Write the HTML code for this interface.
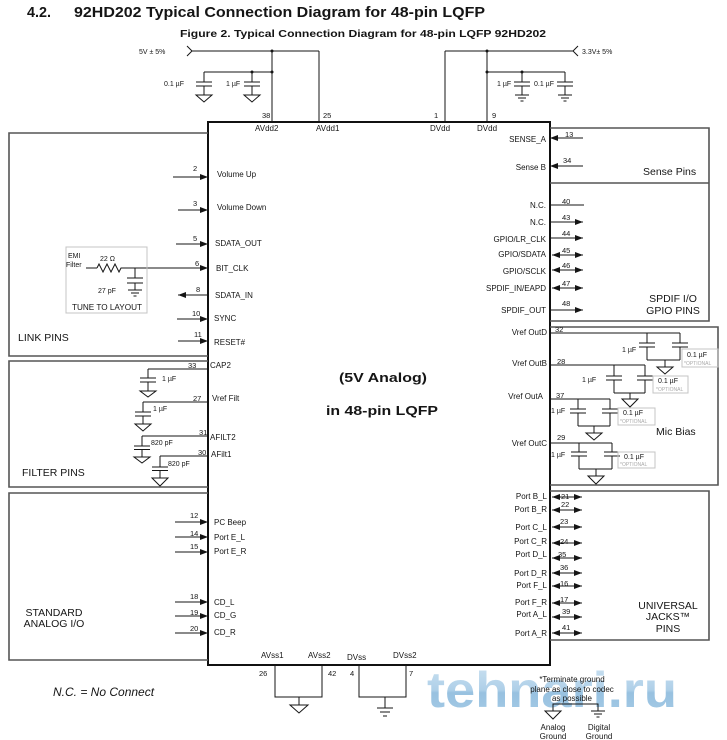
<!DOCTYPE html>
<html><head><meta charset="utf-8"><style>
html,body{margin:0;padding:0;background:#fff;}
svg{display:block;}
text{font-family:"Liberation Sans",Arial,sans-serif;fill:#151515;}
.p{font-size:8px;}
.n{font-size:7.5px;}
.s{font-size:7px;}
.o{font-size:5px;fill:#aaa;}
.big{font-size:10.5px;}
line,path,polyline{stroke:#151515;stroke-width:1;fill:none;}
.gnd{fill:#fff;stroke:#151515;stroke-width:1;}
.box{stroke:#555;stroke-width:1.6;fill:none;}
.ob{stroke:#c4c4c4;stroke-width:1;fill:none;}
</style></head><body>
<svg width="727" height="740" viewBox="0 0 727 740" xmlns="http://www.w3.org/2000/svg">
<defs>
<marker id="ah" viewBox="0 0 8 6" refX="8" refY="3" markerWidth="8" markerHeight="6" markerUnits="userSpaceOnUse" orient="auto-start-reverse"><path d="M0,0L8,3L0,6z" style="fill:#151515;stroke:none"/></marker>
<linearGradient id="wg" x1="0" y1="0" x2="0" y2="1">
<stop offset="0" stop-color="#c9e0f1"/><stop offset="0.5" stop-color="#a6cbe6"/><stop offset="0.55" stop-color="#8dbbdd"/><stop offset="1" stop-color="#9cc5e3"/>
</linearGradient>
</defs>
<rect width="727" height="740" fill="#fff"/>

<!-- titles -->
<text x="27" y="17" font-size="15" font-weight="bold" textLength="24" lengthAdjust="spacingAndGlyphs">4.2.</text>
<text x="74" y="17" font-size="15" font-weight="bold" textLength="411" lengthAdjust="spacingAndGlyphs">92HD202 Typical Connection Diagram for 48-pin LQFP</text>
<text x="180" y="37" font-size="10.5" font-weight="bold" textLength="366" lengthAdjust="spacingAndGlyphs">Figure 2.  Typical Connection Diagram for 48-pin LQFP 92HD202</text>

<!-- top supply left -->
<text class="s" x="139" y="54">5V ± 5%</text>
<path d="M187,46 L192,51 L187,56"/>
<line x1="192" y1="51" x2="319" y2="51"/>
<line x1="272" y1="51" x2="272" y2="122"/>
<line x1="319" y1="51" x2="319" y2="122"/>
<line x1="204" y1="72" x2="272" y2="72"/>
<circle cx="272" cy="51" r="1.5" fill="#151515"/>
<circle cx="272" cy="72" r="1.5" fill="#151515"/>
<circle cx="252" cy="72" r="1.5" fill="#151515"/>
<line x1="204" y1="72" x2="204" y2="82"/><line x1="196" y1="82" x2="212" y2="82"/><line x1="196" y1="86" x2="212" y2="86"/><line x1="204" y1="86" x2="204" y2="95"/>
<polygon class="gnd" points="196,95 212,95 204,102"/>
<line x1="252" y1="72" x2="252" y2="82"/><line x1="244" y1="82" x2="260" y2="82"/><line x1="244" y1="86" x2="260" y2="86"/><line x1="252" y1="86" x2="252" y2="95"/>
<polygon class="gnd" points="244,95 260,95 252,102"/>
<text class="s" x="164" y="86">0.1 µF</text>
<text class="s" x="226" y="86">1 µF</text>

<!-- top supply right -->
<text class="s" x="582" y="54">3.3V± 5%</text>
<path d="M578,46 L573,51 L578,56"/>
<line x1="445" y1="51" x2="573" y2="51"/>
<line x1="445" y1="51" x2="445" y2="122"/>
<line x1="487" y1="51" x2="487" y2="122"/>
<line x1="487" y1="72" x2="565" y2="72"/>
<circle cx="487" cy="51" r="1.5" fill="#151515"/>
<circle cx="487" cy="72" r="1.5" fill="#151515"/>
<circle cx="522" cy="72" r="1.5" fill="#151515"/>
<line x1="522" y1="72" x2="522" y2="82"/><line x1="514" y1="82" x2="530" y2="82"/><line x1="514" y1="86" x2="530" y2="86"/><line x1="522" y1="86" x2="522" y2="95"/>
<line x1="515" y1="95" x2="529" y2="95"/><line x1="518" y1="98" x2="526" y2="98"/><line x1="520.5" y1="101" x2="523.5" y2="101"/>
<line x1="565" y1="72" x2="565" y2="82"/><line x1="557" y1="82" x2="573" y2="82"/><line x1="557" y1="86" x2="573" y2="86"/><line x1="565" y1="86" x2="565" y2="95"/>
<line x1="558" y1="95" x2="572" y2="95"/><line x1="561" y1="98" x2="569" y2="98"/><line x1="563.5" y1="101" x2="566.5" y2="101"/>
<text class="s" x="497" y="86">1 µF</text>
<text class="s" x="534" y="86">0.1 µF</text>

<!-- top pin numbers & names -->
<text class="n" x="262" y="118">38</text>
<text class="n" x="323" y="118">25</text>
<text class="n" x="434" y="118">1</text>
<text class="n" x="492" y="118">9</text>
<text class="p" x="255" y="131">AVdd2</text>
<text class="p" x="316" y="131">AVdd1</text>
<text class="p" x="430" y="131">DVdd</text>
<text class="p" x="477" y="131">DVdd</text>

<!-- watermark -->
<text x="427" y="707" font-size="50" font-weight="bold" textLength="250" lengthAdjust="spacingAndGlyphs" style="fill:url(#wg);opacity:0.9">tehnari.ru</text>

<!-- chip -->
<rect x="208" y="122" width="342" height="543" fill="none" stroke="#111" stroke-width="2"/>
<text x="339" y="382" font-size="13" font-weight="bold" textLength="88" lengthAdjust="spacingAndGlyphs">(5V Analog)</text>
<text x="326" y="415" font-size="13" font-weight="bold" textLength="112" lengthAdjust="spacingAndGlyphs">in 48-pin LQFP</text>

<!-- left boxes -->
<path class="box" d="M208,133 H9 V356 H208"/>
<path class="box" d="M208,361 H9 V487 H208"/>
<path class="box" d="M208,493 H9 V660 H208"/>
<text class="big" x="18" y="341">LINK PINS</text>
<text class="big" x="22" y="476">FILTER PINS</text>
<text class="big" x="54" y="616" text-anchor="middle">STANDARD</text>
<text class="big" x="54" y="627" text-anchor="middle">ANALOG I/O</text>
<text x="53" y="696" font-size="12" font-style="italic">N.C. = No Connect</text>

<!-- link pins -->
<line x1="173" y1="177" x2="208" y2="177" marker-end="url(#ah)"/>
<line x1="178" y1="210" x2="208" y2="210" marker-end="url(#ah)"/>
<line x1="176" y1="244" x2="208" y2="244" marker-end="url(#ah)"/>
<line x1="123" y1="268" x2="208" y2="268" marker-end="url(#ah)"/>
<line x1="208" y1="295" x2="178" y2="295" marker-end="url(#ah)"/>
<line x1="177" y1="319" x2="208" y2="319" marker-end="url(#ah)"/>
<line x1="178" y1="341" x2="208" y2="341" marker-end="url(#ah)"/>
<text class="n" x="193" y="171">2</text>
<text class="n" x="193" y="206">3</text>
<text class="n" x="193" y="241">5</text>
<text class="n" x="195" y="266">6</text>
<text class="n" x="196" y="292">8</text>
<text class="n" x="192" y="316">10</text>
<text class="n" x="194" y="337">11</text>
<text class="p" x="217" y="177">Volume Up</text>
<text class="p" x="217" y="210">Volume Down</text>
<text class="p" x="215" y="246">SDATA_OUT</text>
<text class="p" x="216" y="271">BIT_CLK</text>
<text class="p" x="215" y="298">SDATA_IN</text>
<text class="p" x="214" y="321">SYNC</text>
<text class="p" x="214" y="345">RESET#</text>

<!-- EMI filter -->
<rect class="ob" x="66" y="247" width="81" height="66"/>
<text class="s" x="68" y="258">EMI</text>
<text class="s" x="66" y="267">Filter</text>
<line x1="86" y1="268" x2="97" y2="268"/>
<polyline points="97,268 99,264 103,272 107,264 111,272 115,264 119,272 121,268 123,268"/>
<text class="s" x="100" y="261">22 Ω</text>
<line x1="135" y1="268" x2="135" y2="278"/>
<line x1="127" y1="278" x2="143" y2="278"/><line x1="127" y1="283" x2="143" y2="283"/>
<line x1="135" y1="283" x2="135" y2="290"/>
<line x1="128" y1="290" x2="142" y2="290"/><line x1="131" y1="293" x2="139" y2="293"/><line x1="133.5" y1="296" x2="136.5" y2="296"/>
<text class="s" x="98" y="293">27 pF</text>
<text class="p" x="72" y="310" textLength="70" lengthAdjust="spacingAndGlyphs">TUNE TO LAYOUT</text>

<!-- filter pins -->
<line x1="148" y1="369" x2="208" y2="369"/>
<line x1="148" y1="369" x2="148" y2="378"/><line x1="140" y1="378" x2="156" y2="378"/><line x1="140" y1="382" x2="156" y2="382"/><line x1="148" y1="382" x2="148" y2="391"/>
<polygon class="gnd" points="140,391 156,391 148,397"/>
<line x1="143" y1="402" x2="208" y2="402"/>
<line x1="143" y1="402" x2="143" y2="412"/><line x1="135" y1="412" x2="151" y2="412"/><line x1="135" y1="416" x2="151" y2="416"/><line x1="143" y1="416" x2="143" y2="424"/>
<polygon class="gnd" points="135,424 151,424 143,431"/>
<line x1="142" y1="436" x2="208" y2="436"/>
<line x1="142" y1="436" x2="142" y2="446"/><line x1="134" y1="446" x2="150" y2="446"/><line x1="134" y1="449.5" x2="150" y2="449.5"/><line x1="142" y1="449.5" x2="142" y2="457"/>
<polygon class="gnd" points="134,457 150,457 142,463"/>
<line x1="160" y1="456" x2="208" y2="456"/>
<line x1="160" y1="456" x2="160" y2="467"/><line x1="152" y1="467" x2="168" y2="467"/><line x1="152" y1="470.5" x2="168" y2="470.5"/><line x1="160" y1="470.5" x2="160" y2="478"/>
<polygon class="gnd" points="152,478 168,478 160,486"/>
<text class="s" x="162" y="381">1 µF</text>
<text class="s" x="153" y="411">1 µF</text>
<text class="s" x="151" y="445">820 pF</text>
<text class="s" x="168" y="466">820 pF</text>
<text class="n" x="188" y="368">33</text>
<text class="n" x="193" y="401">27</text>
<text class="n" x="199" y="435">31</text>
<text class="n" x="198" y="455">30</text>
<text class="p" x="210" y="368">CAP2</text>
<text class="p" x="212" y="401">Vref Filt</text>
<text class="p" x="210" y="440">AFILT2</text>
<text class="p" x="211" y="457">AFilt1</text>

<!-- standard analog pins -->
<line x1="175" y1="522" x2="208" y2="522" marker-end="url(#ah)"/>
<line x1="175" y1="537" x2="208" y2="537" marker-end="url(#ah)"/>
<line x1="175" y1="552" x2="208" y2="552" marker-end="url(#ah)"/>
<line x1="175" y1="602" x2="208" y2="602" marker-end="url(#ah)"/>
<line x1="175" y1="616" x2="208" y2="616" marker-end="url(#ah)"/>
<line x1="175" y1="633" x2="208" y2="633" marker-end="url(#ah)"/>
<text class="n" x="190" y="518">12</text>
<text class="n" x="190" y="536">14</text>
<text class="n" x="190" y="549">15</text>
<text class="n" x="190" y="599">18</text>
<text class="n" x="190" y="615">19</text>
<text class="n" x="190" y="631">20</text>
<text class="p" x="214" y="525">PC Beep</text>
<text class="p" x="214" y="540">Port E_L</text>
<text class="p" x="214" y="554">Port E_R</text>
<text class="p" x="214" y="605">CD_L</text>
<text class="p" x="214" y="618">CD_G</text>
<text class="p" x="214" y="635">CD_R</text>

<!-- right boxes -->
<path class="box" d="M550,128 H709 V321 H550"/>
<line class="box" x1="550" y1="183" x2="709" y2="183"/>
<path class="box" d="M550,327 H718 V485 H550"/>
<path class="box" d="M550,491 H709 V640 H550"/>
<text class="big" x="643" y="175">Sense Pins</text>
<text class="big" x="673" y="302" text-anchor="middle">SPDIF I/O</text>
<text class="big" x="673" y="314" text-anchor="middle">GPIO PINS</text>
<text class="big" x="656" y="435">Mic Bias</text>
<text class="big" x="668" y="609" text-anchor="middle">UNIVERSAL</text>
<text class="big" x="668" y="620" text-anchor="middle">JACKS™</text>
<text class="big" x="668" y="632" text-anchor="middle">PINS</text>

<!-- sense / gpio pins -->
<line x1="583" y1="138" x2="550" y2="138" marker-end="url(#ah)"/>
<line x1="583" y1="166" x2="550" y2="166" marker-end="url(#ah)"/>
<line x1="550" y1="205" x2="584" y2="205"/>
<line x1="550" y1="222" x2="583" y2="222" marker-end="url(#ah)"/>
<line x1="550" y1="238" x2="583" y2="238" marker-end="url(#ah)"/>
<line x1="552" y1="255" x2="583" y2="255" marker-start="url(#ah)" marker-end="url(#ah)"/>
<line x1="552" y1="270" x2="583" y2="270" marker-start="url(#ah)" marker-end="url(#ah)"/>
<line x1="552" y1="288" x2="583" y2="288" marker-start="url(#ah)" marker-end="url(#ah)"/>
<line x1="550" y1="310" x2="583" y2="310" marker-end="url(#ah)"/>
<text class="n" x="565" y="137">13</text>
<text class="n" x="563" y="163">34</text>
<text class="n" x="562" y="204">40</text>
<text class="n" x="562" y="220">43</text>
<text class="n" x="562" y="236">44</text>
<text class="n" x="562" y="253">45</text>
<text class="n" x="562" y="268">46</text>
<text class="n" x="562" y="286">47</text>
<text class="n" x="562" y="306">48</text>
<g text-anchor="end">
<text class="p" x="546" y="142">SENSE_A</text>
<text class="p" x="546" y="170">Sense B</text>
<text class="p" x="546" y="208">N.C.</text>
<text class="p" x="546" y="225">N.C.</text>
<text class="p" x="546" y="242">GPIO/LR_CLK</text>
<text class="p" x="546" y="257">GPIO/SDATA</text>
<text class="p" x="546" y="274">GPIO/SCLK</text>
<text class="p" x="546" y="291">SPDIF_IN/EAPD</text>
<text class="p" x="546" y="313">SPDIF_OUT</text>
<text class="p" x="547" y="335">Vref OutD</text>
<text class="p" x="547" y="366">Vref OutB</text>
<text class="p" x="543" y="399">Vref OutA</text>
<text class="p" x="547" y="446">Vref OutC</text>
</g>

<!-- mic bias -->
<!-- OutD -->
<line x1="550" y1="333" x2="680" y2="333"/>
<line x1="647" y1="333" x2="647" y2="343"/><line x1="639" y1="343" x2="655" y2="343"/><line x1="639" y1="347" x2="655" y2="347"/><line x1="647" y1="347" x2="647" y2="360"/>
<line x1="680" y1="333" x2="680" y2="343"/><line x1="672" y1="343" x2="688" y2="343"/><line x1="672" y1="347" x2="688" y2="347"/><line x1="680" y1="347" x2="680" y2="360"/>
<line x1="647" y1="360" x2="680" y2="360"/><line x1="665" y1="360" x2="665" y2="367"/>
<polygon class="gnd" points="657,367 673,367 665,374"/>
<text class="s" x="622" y="352">1 µF</text>
<rect class="ob" x="682" y="349" width="36" height="18"/>
<text class="s" x="687" y="357">0.1 µF</text>
<text class="o" x="684" y="365">*OPTIONAL</text>
<text class="n" x="555" y="332">32</text>
<!-- OutB -->
<line x1="550" y1="365" x2="645" y2="365"/>
<line x1="614" y1="365" x2="614" y2="376"/><line x1="606" y1="376" x2="622" y2="376"/><line x1="606" y1="380" x2="622" y2="380"/><line x1="614" y1="380" x2="614" y2="393"/>
<line x1="645" y1="365" x2="645" y2="376"/><line x1="637" y1="376" x2="653" y2="376"/><line x1="637" y1="380" x2="653" y2="380"/><line x1="645" y1="380" x2="645" y2="393"/>
<line x1="614" y1="393" x2="645" y2="393"/><line x1="630" y1="393" x2="630" y2="399"/>
<polygon class="gnd" points="622,399 638,399 630,407"/>
<text class="s" x="582" y="382">1 µF</text>
<rect class="ob" x="653" y="376" width="35" height="17"/>
<text class="s" x="658" y="383">0.1 µF</text>
<text class="o" x="656" y="391">*OPTIONAL</text>
<text class="n" x="557" y="364">28</text>
<!-- OutA -->
<line x1="550" y1="399" x2="610" y2="399"/>
<line x1="578" y1="399" x2="578" y2="409"/><line x1="570" y1="409" x2="586" y2="409"/><line x1="570" y1="413" x2="586" y2="413"/><line x1="578" y1="413" x2="578" y2="426"/>
<line x1="610" y1="399" x2="610" y2="409"/><line x1="602" y1="409" x2="618" y2="409"/><line x1="602" y1="413" x2="618" y2="413"/><line x1="610" y1="413" x2="610" y2="426"/>
<line x1="578" y1="426" x2="610" y2="426"/><line x1="594" y1="426" x2="594" y2="433"/>
<polygon class="gnd" points="586,433 602,433 594,440"/>
<text class="s" x="551" y="413">1 µF</text>
<rect class="ob" x="618" y="408" width="37" height="17"/>
<text class="s" x="623" y="415">0.1 µF</text>
<text class="o" x="620" y="423">*OPTIONAL</text>
<text class="n" x="556" y="398">37</text>
<!-- OutC -->
<line x1="550" y1="443" x2="612" y2="443"/>
<line x1="579" y1="443" x2="579" y2="452"/><line x1="571" y1="452" x2="587" y2="452"/><line x1="571" y1="456" x2="587" y2="456"/><line x1="579" y1="456" x2="579" y2="469"/>
<line x1="612" y1="443" x2="612" y2="452"/><line x1="604" y1="452" x2="620" y2="452"/><line x1="604" y1="456" x2="620" y2="456"/><line x1="612" y1="456" x2="612" y2="469"/>
<line x1="579" y1="469" x2="612" y2="469"/><line x1="596" y1="469" x2="596" y2="476"/>
<polygon class="gnd" points="588,476 604,476 596,484"/>
<text class="s" x="551" y="457">1 µF</text>
<rect class="ob" x="618" y="452" width="37" height="16"/>
<text class="s" x="624" y="459">0.1 µF</text>
<text class="o" x="620" y="466">*OPTIONAL</text>
<text class="n" x="557" y="440">29</text>

<!-- universal jacks -->
<g>
<line x1="552" y1="497" x2="582" y2="497" marker-start="url(#ah)" marker-end="url(#ah)"/>
<line x1="552" y1="510" x2="582" y2="510" marker-start="url(#ah)" marker-end="url(#ah)"/>
<line x1="552" y1="527" x2="582" y2="527" marker-start="url(#ah)" marker-end="url(#ah)"/>
<line x1="552" y1="543" x2="582" y2="543" marker-start="url(#ah)" marker-end="url(#ah)"/>
<line x1="552" y1="558" x2="582" y2="558" marker-start="url(#ah)" marker-end="url(#ah)"/>
<line x1="552" y1="573" x2="582" y2="573" marker-start="url(#ah)" marker-end="url(#ah)"/>
<line x1="552" y1="586" x2="582" y2="586" marker-start="url(#ah)" marker-end="url(#ah)"/>
<line x1="552" y1="603" x2="582" y2="603" marker-start="url(#ah)" marker-end="url(#ah)"/>
<line x1="552" y1="617" x2="582" y2="617" marker-start="url(#ah)" marker-end="url(#ah)"/>
<line x1="552" y1="633" x2="582" y2="633" marker-start="url(#ah)" marker-end="url(#ah)"/>
</g>
<text class="n" x="561" y="499">21</text>
<text class="n" x="561" y="507">22</text>
<text class="n" x="560" y="524">23</text>
<text class="n" x="560" y="544">24</text>
<text class="n" x="558" y="557">35</text>
<text class="n" x="560" y="570">36</text>
<text class="n" x="560" y="586">16</text>
<text class="n" x="560" y="602">17</text>
<text class="n" x="562" y="614">39</text>
<text class="n" x="562" y="630">41</text>
<g text-anchor="end">
<text class="p" x="547" y="499">Port B_L</text>
<text class="p" x="547" y="512">Port B_R</text>
<text class="p" x="547" y="530">Port C_L</text>
<text class="p" x="547" y="544">Port C_R</text>
<text class="p" x="547" y="557">Port D_L</text>
<text class="p" x="547" y="576">Port D_R</text>
<text class="p" x="547" y="588">Port F_L</text>
<text class="p" x="547" y="605">Port F_R</text>
<text class="p" x="547" y="617">Port A_L</text>
<text class="p" x="547" y="636">Port A_R</text>
</g>

<!-- bottom pins -->
<text class="p" x="261" y="658">AVss1</text>
<text class="p" x="308" y="658">AVss2</text>
<text class="p" x="347" y="660">DVss</text>
<text class="p" x="393" y="658">DVss2</text>
<text class="n" x="259" y="676">26</text>
<text class="n" x="328" y="676">42</text>
<text class="n" x="350" y="676">4</text>
<text class="n" x="409" y="676">7</text>
<path d="M275,665 V697 H322 V665"/>
<line x1="299" y1="697" x2="299" y2="705"/>
<polygon class="gnd" points="290,705 308,705 299,713"/>
<path d="M359,665 V697 H406 V665"/>
<line x1="385" y1="697" x2="385" y2="708"/>
<line x1="377" y1="708" x2="393" y2="708"/><line x1="380" y1="712" x2="390" y2="712"/><line x1="383" y1="716" x2="387" y2="716"/>

<!-- ground note -->
<text class="p" x="572" y="682" text-anchor="middle">*Terminate ground</text>
<text class="p" x="572" y="692" text-anchor="middle">plane as close to codec</text>
<text class="p" x="572" y="701" text-anchor="middle">as possible</text>
<path d="M553,711 V704 H598 V711"/>
<polygon class="gnd" points="545,711 561,711 553,719"/>
<line x1="591" y1="711" x2="605" y2="711"/><line x1="594" y1="714" x2="602" y2="714"/><line x1="596.5" y1="717" x2="599.5" y2="717"/>
<text class="p" x="553" y="730" text-anchor="middle">Analog</text>
<text class="p" x="553" y="739" text-anchor="middle">Ground</text>
<text class="p" x="599" y="730" text-anchor="middle">Digital</text>
<text class="p" x="599" y="739" text-anchor="middle">Ground</text>
</svg>
</body></html>
